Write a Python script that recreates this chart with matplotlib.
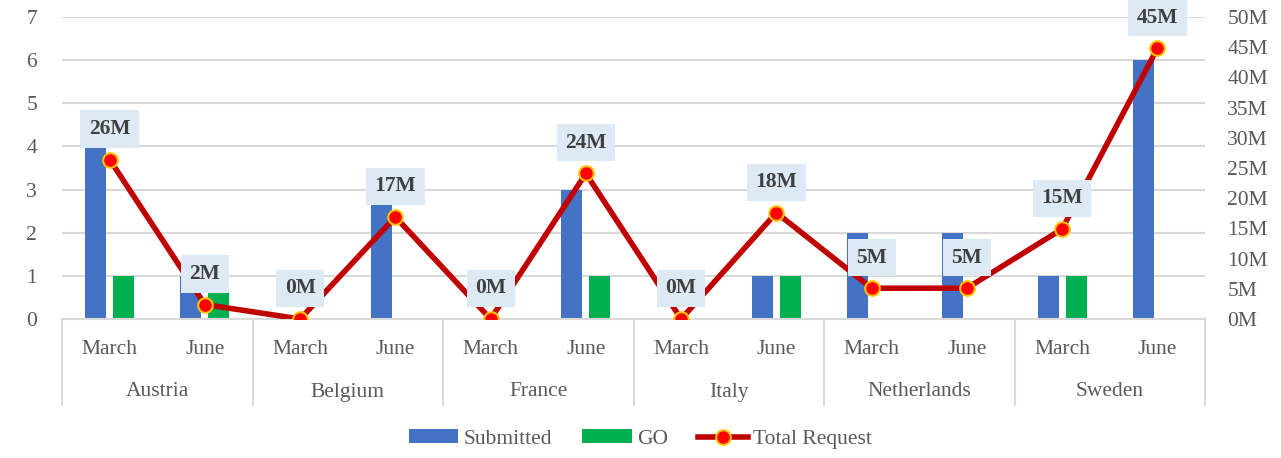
import matplotlib
matplotlib.use("Agg")
import matplotlib.pyplot as plt
from matplotlib.patches import Patch
from matplotlib.lines import Line2D
import numpy as np

countries = ["Austria", "Belgium", "France", "Italy", "Netherlands", "Sweden"]
months = ["March", "June"]
submitted = [4, 1, 0, 3, 0, 3, 0, 1, 2, 2, 1, 6]
go = [1, 1, 0, 0, 0, 1, 0, 1, 0, 0, 1, 0]
total_request_m = [26.4, 2.4, 0, 16.9, 0, 24.1, 0, 17.6, 5.1, 5.1, 14.9, 44.8]
left_ticks = [0, 1, 2, 3, 4, 5, 6, 7]
right_ticks = [0, 5, 10, 15, 20, 25, 30, 35, 40, 45, 50]

FONT = ["Liberation Serif", "DejaVu Serif"]
plt.rcParams["font.family"] = FONT
TXT = "#595959"
GRID = "#D9D9D9"
FS = 15.5

fig = plt.figure(figsize=(12.81, 4.58), dpi=100)
ax = fig.add_axes([62 / 1281, 1 - 319 / 458, (1205 - 62) / 1281, (319 - 17) / 458])
ax2 = ax.twinx()

n = len(submitted)
x = np.arange(n)
bw = 0.22
off = 0.147
ax.bar(x - off, submitted, width=bw, color="#4472C4", zorder=2)
ax.bar(x + off, go, width=bw, color="#00B050", zorder=2)
ax.set_xlim(-0.5, n - 0.5)
ax.set_ylim(0, 7)
ax.set_yticks(left_ticks)
ax.yaxis.grid(True, color=GRID, linewidth=1.5, zorder=0)
ax.set_axisbelow(True)
for s in ["top", "right", "left"]:
    ax.spines[s].set_visible(False)
ax.spines["bottom"].set_color(GRID)
ax.spines["bottom"].set_linewidth(1.5)
ax.tick_params(axis="y", length=0, pad=18, labelsize=FS, labelcolor=TXT)
ax.set_xticks([])

ax2.plot(x, total_request_m, color="#C00000", linewidth=4, marker="o",
         markersize=10.5, markerfacecolor="#FF0000", markeredgecolor="#FFC000",
         markeredgewidth=1.5, zorder=3)
ax2.set_ylim(0, 50)
ax2.set_yticks(right_ticks)
ax2.set_yticklabels([f"{t}M" for t in right_ticks])
for s in ["top", "right", "left", "bottom"]:
    ax2.spines[s].set_visible(False)
ax2.tick_params(axis="y", length=0, pad=16, labelsize=FS, labelcolor=TXT)

for xi, v in zip(x, total_request_m):
    ax2.annotate(f"{v:.0f}M", (xi, v), xytext=(0, 22), textcoords="offset points",
                 ha="center", va="center", fontsize=FS, fontweight="bold",
                 color="#404040", zorder=5,
                 bbox=dict(boxstyle="square,pad=0.4", facecolor="#DDE9F5",
                           edgecolor="none"))

# two-level category axis
trans = ax.get_xaxis_transform()
for i in range(n):
    ax.text(i, -30 / 302, months[i % 2], transform=trans, ha="center", va="center",
            fontsize=FS, color=TXT)
for g, c in enumerate(countries):
    ax.text(2 * g + 0.5, -73 / 302, c, transform=trans, ha="center", va="center",
            fontsize=FS, color=TXT)
for b in range(len(countries) + 1):
    ax.plot([2 * b - 0.5, 2 * b - 0.5], [0, -86 / 302], transform=trans,
            color=GRID, linewidth=1.5, clip_on=False)

handles = [Patch(facecolor="#4472C4", edgecolor="none", label="Submitted"),
           Patch(facecolor="#00B050", edgecolor="none", label="GO"),
           Line2D([0], [0], color="#C00000", linewidth=4, marker="o", markersize=10.5,
                  markerfacecolor="#FF0000", markeredgecolor="#FFC000",
                  markeredgewidth=1.5, label="Total Request")]
leg = fig.legend(handles=handles, loc="center", bbox_to_anchor=(0.5, 1 - 439 / 458),
                 ncol=3, frameon=False, fontsize=FS, handlelength=2.3,
                 handleheight=0.6, handletextpad=0.25, columnspacing=1.4)
for t in leg.get_texts():
    t.set_color(TXT)

fig.savefig("out.png", dpi=100)
